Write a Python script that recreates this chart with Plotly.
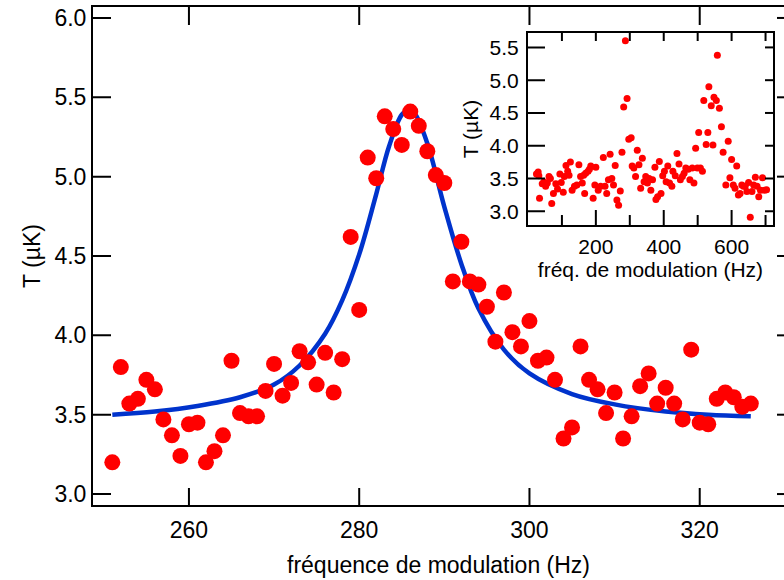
import plotly.graph_objects as go

# main scan around the resonance
freq = [251, 252, 253, 254, 255, 256, 257, 258, 259, 260, 261, 262, 263, 264, 265, 266,
        267, 268, 269, 270, 271, 272, 273, 274, 275, 276, 277, 278, 279, 280, 281, 282,
        283, 284, 285, 286, 287, 288, 289, 290, 291, 292, 293, 294, 295, 296, 297, 298,
        299, 300, 301, 302, 303, 304, 305, 306, 307, 308, 309, 310, 311, 312, 313, 314,
        315, 316, 317, 318, 319, 320, 321, 322, 323, 324, 325, 326]
temp = [3.20, 3.80, 3.57, 3.60, 3.72, 3.66, 3.47, 3.37, 3.24, 3.44, 3.45, 3.20, 3.27, 3.37, 3.84, 3.51,
        3.49, 3.49, 3.65, 3.82, 3.62, 3.70, 3.90, 3.83, 3.69, 3.89, 3.64, 3.85, 4.62, 4.16, 5.12, 4.99,
        5.38, 5.30, 5.20, 5.41, 5.32, 5.16, 5.01, 4.96, 4.34, 4.59, 4.34, 4.32, 4.18, 3.96, 4.27, 4.02,
        3.93, 4.09, 3.84, 3.86, 3.72, 3.35, 3.42, 3.93, 3.72, 3.66, 3.51, 3.64, 3.35, 3.49, 3.68, 3.76,
        3.57, 3.67, 3.57, 3.47, 3.91, 3.45, 3.44, 3.60, 3.64, 3.61, 3.55, 3.57]

# fitted curve
fit_freq = [251, 256, 261, 266, 270, 273, 276, 278, 280, 282, 283.5, 285, 285.8, 286.5,
            288, 290, 292, 294, 297, 300, 305, 310, 316, 321, 326]
fit_temp = [3.50, 3.52, 3.555, 3.61, 3.69, 3.81, 4.01, 4.22, 4.51, 4.89, 5.19, 5.39, 5.42, 5.40,
            5.21, 4.81, 4.45, 4.17, 3.91, 3.76, 3.63, 3.565, 3.52, 3.50, 3.49]

# wide scan (inset)
wide_freq = [25, 30, 32, 34, 42, 47, 52, 57, 62, 66, 70, 75, 82, 87, 94, 98, 104, 107, 112, 117,
             121, 125, 130, 137, 144, 150, 155, 160, 164, 167, 170, 177, 181, 185, 192, 197, 200,
             207, 214, 222, 227, 232, 237, 242, 247, 252, 257, 262, 267, 272, 277, 282, 287, 292,
             297, 304, 307, 312, 317, 322, 327, 332, 337, 342, 347, 352, 357, 362, 367, 374, 377,
             382, 387, 392, 397, 402, 407, 412, 417, 424, 427, 434, 439, 445, 449, 455, 460, 465,
             472, 477, 484, 489, 494, 499, 503, 508, 514, 518, 525, 530, 533, 540, 545, 548, 555,
             558, 564, 570, 575, 583, 590, 595, 600, 605, 610, 615, 620, 625, 630, 635, 640, 645,
             650, 655, 660, 665, 670, 675, 680, 685, 691, 697, 703]
wide_temp = [3.57, 3.60, 3.54, 3.20, 3.42, 3.45, 3.38, 3.43, 3.53, 3.50, 3.12, 3.27, 3.42, 3.34, 3.57,
             3.44, 3.29, 3.53, 3.70, 3.61, 3.55, 3.75, 3.32, 3.38, 3.40, 3.71, 3.53, 3.43, 3.55, 3.27,
             3.58, 3.61, 3.64, 3.69, 3.20, 3.40, 3.67, 3.32, 3.38, 3.82, 3.38, 3.27, 3.48, 3.87, 3.50,
             3.40, 3.70, 3.17, 3.09, 3.31, 3.90, 4.59, 5.60, 4.72, 4.10, 4.12, 3.69, 3.66, 3.53, 3.93,
             3.71, 3.35, 3.81, 3.45, 3.53, 3.43, 3.50, 3.32, 3.48, 3.67, 3.18, 3.22, 3.76, 3.27, 3.54,
             3.61, 3.45, 3.69, 3.43, 3.38, 3.61, 3.54, 3.88, 3.72, 3.48, 3.53, 3.58, 3.66, 3.64, 3.48,
             3.66, 3.43, 3.96, 3.66, 4.20, 3.66, 3.61, 4.69, 4.02, 4.20, 4.90, 4.61, 4.01, 4.74, 4.69,
             5.38, 4.57, 4.29, 3.90, 3.40, 4.07, 3.51, 3.79, 3.40, 3.35, 3.69, 3.25, 3.27, 3.40, 3.38,
             3.38, 3.30, 3.44, 2.91, 3.30, 3.40, 3.52, 3.38, 3.22, 3.32, 3.51, 3.32, 3.33]

main_xticks = [260, 280, 300, 320]
main_yticks = [3.0, 3.5, 4.0, 4.5, 5.0, 5.5, 6.0]
inset_xticks = [200, 400, 600]
inset_xminor = [100, 300, 500, 700]
inset_yticks = [3.0, 3.5, 4.0, 4.5, 5.0, 5.5]

main_xrange = [248.73, 329.9]
main_yrange = [2.931, 6.069]
inset_xrange = [0, 722]
inset_yrange = [2.79, 5.72]

FONT = "Liberation Sans, Arial, sans-serif"
RED = "#FF0000"
BLUE = "#0033CC"
big = dict(family=FONT, color="black", size=23)
small = dict(family=FONT, color="black", size=21)

fig = go.Figure()

fig.add_trace(go.Scatter(x=fit_freq, y=fit_temp, mode="lines", line=dict(color=BLUE, width=4.5, shape="spline")))
fig.add_trace(go.Scatter(x=freq, y=temp, mode="markers", marker=dict(color=RED, size=16)))
fig.add_trace(go.Scatter(x=wide_freq, y=wide_temp, mode="markers", marker=dict(color=RED, size=7),
                         xaxis="x2", yaxis="y2"))


# inward tick marks: line markers centred on the frame edge, the outer half is clipped away
def ticks(x, y, symbol, length, xa="x", ya="y"):
    return go.Scatter(x=x, y=y, mode="markers", cliponaxis=True, hoverinfo="skip", xaxis=xa, yaxis=ya,
                      marker=dict(symbol=symbol, size=length / 0.7, color="black",
                                  line=dict(color="black", width=2)))


fig.add_trace(ticks(main_xticks, [main_yrange[0]] * len(main_xticks), "line-ns-open", 17))
fig.add_trace(ticks(main_xticks, [main_yrange[1]] * len(main_xticks), "line-ns-open", 18))
fig.add_trace(ticks([main_xrange[0]] * len(main_yticks), main_yticks, "line-ew-open", 18))
fig.add_trace(ticks([main_xrange[1]] * len(main_yticks), main_yticks, "line-ew-open", 7))

fig.add_trace(ticks(inset_xticks, [inset_yrange[0]] * len(inset_xticks), "line-ns-open", 15, "x2", "y2"))
fig.add_trace(ticks(inset_xminor, [inset_yrange[0]] * len(inset_xminor), "line-ns-open", 10, "x2", "y2"))
fig.add_trace(ticks(inset_xticks + inset_xminor, [inset_yrange[1]] * 7, "line-ns-open", 8, "x2", "y2"))
fig.add_trace(ticks([inset_xrange[0]] * len(inset_yticks), inset_yticks, "line-ew-open", 17, "x2", "y2"))
fig.add_trace(ticks([inset_xrange[1]] * len(inset_yticks), inset_yticks, "line-ew-open", 8, "x2", "y2"))

fig.update_layout(
    width=784, height=580,
    margin=dict(l=93, r=0, t=7, b=75),
    plot_bgcolor="white",
    showlegend=False,
    xaxis=dict(range=main_xrange, tickvals=main_xticks, ticks="",
               showline=True, linecolor="black", linewidth=2, mirror=True,
               showgrid=False, zeroline=False, automargin=False, tickfont=big, ticklabelstandoff=3,
               title=dict(text="fréquence de modulation (Hz)", font=big, standoff=15)),
    yaxis=dict(range=main_yrange, tickvals=main_yticks, tickformat=".1f", ticks="",
               showline=True, linecolor="black", linewidth=2,
               showgrid=False, zeroline=False, automargin=False, tickfont=big,
               title=dict(text="T (µK)", font=big, standoff=7)),
    xaxis2=dict(domain=[0.6295, 0.9841], anchor="y2", range=inset_xrange, tickvals=inset_xticks, ticks="",
                showline=True, linecolor="black", linewidth=2, mirror=True,
                showgrid=False, zeroline=False, automargin=False, tickfont=small, ticklabelstandoff=2,
                title=dict(text="fréq. de modulation (Hz)", font=small, standoff=0)),
    yaxis2=dict(domain=[0.5622, 0.9478], anchor="x2", range=inset_yrange, tickvals=inset_yticks,
                tickformat=".1f", ticks="",
                showline=True, linecolor="black", linewidth=2, mirror=True,
                showgrid=False, zeroline=False, automargin=False, tickfont=small, ticklabelstandoff=3,
                title=dict(text="T (µK)", font=small, standoff=5)),
)

fig.write_html("out.html", post_script="document.body.style.margin='0px';",
               config={"displayModeBar": False})
